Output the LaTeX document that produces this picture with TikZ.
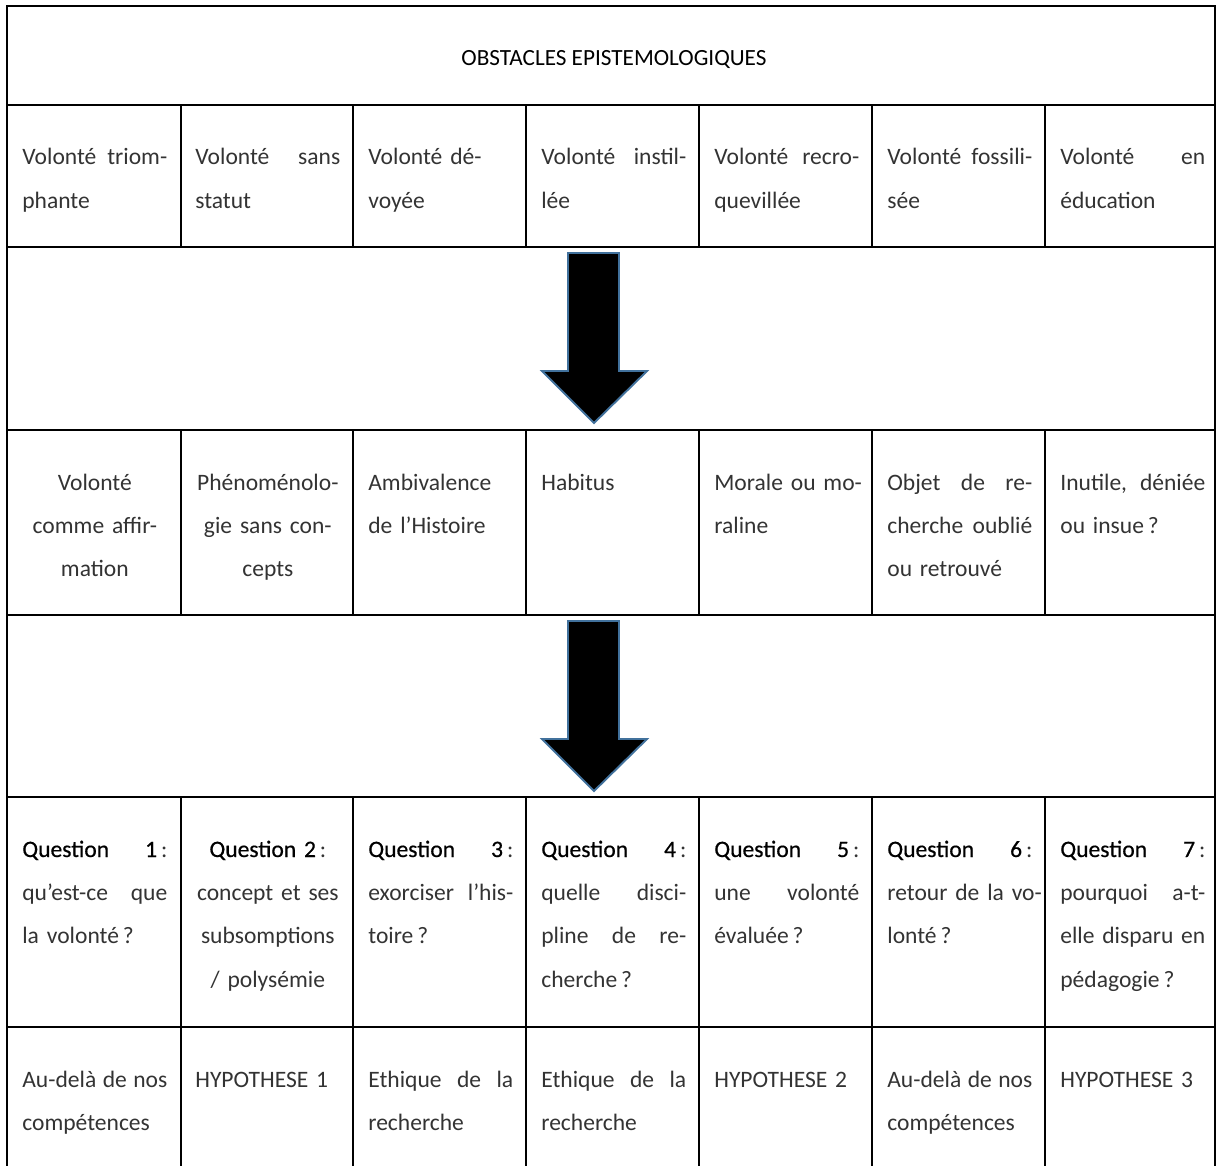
\documentclass[tikz,border=0pt]{standalone}
\usepackage{fontspec}
\setmainfont{Carlito}
\newfontfamily\qfont{Carlito}[FakeBold=0.6]
\usepackage{tikz}
\definecolor{arrowblue}{HTML}{41719C}
\definecolor{bodytext}{HTML}{333333}
\newcommand\bodyfont{\fontsize{13.4}{24.75}\selectfont}
\newcommand\qword[1]{{\qfont\color{black}#1}}
\hyphenpenalty=10000
\exhyphenpenalty=10000
\tikzset{
  rule/.style={line width=0.75pt,draw=black},
  cell/.style={anchor=base west,inner sep=0pt,text width=2.9cm,align=left,font=\bodyfont,text=bodytext},
  ccell/.style={cell,align=center},
  titletext/.style={anchor=base,inner sep=0pt,font=\fontsize{13.2}{15}\selectfont,text=black},
  bigarrow/.style={fill=black,draw=arrowblue,line width=1.1pt,line join=miter},
}

\begin{document}
\begin{tikzpicture}[x=0.02cm,y=-0.02cm]
  \useasboundingbox (0,0) rectangle (1218,1166);
  % grid
  \draw[rule] (7,1166) -- (7,6) -- (1215,6) -- (1215,1166);
  \foreach \y in {105,247,430,615,797,1027}
    \draw[rule] (7,\y) -- (1215,\y);
  \foreach \x in {181,353,526,699,872,1045}
    \foreach \a/\b in {105/247,430/615,797/1166}
      \draw[rule] (\x,\a) -- (\x,\b);
  % block arrows
  \foreach \t in {247,615}
    \draw[bigarrow] (568,\t+6) -- (619,\t+6) -- (619,\t+124) -- (647,\t+124)
      -- (594,\t+176) -- (542,\t+124) -- (568,\t+124) -- cycle;

  \node[titletext] (title) at (614,66) {OBSTACLES EPISTEMOLOGIQUES};

  \foreach \i/\t in {1/{Volonté\hfill triom-\\phante},
                     2/{Volonté\hfill sans\\statut},
                     3/{Volonté dé-\\voyée},
                     4/{Volonté\hfill instil-\\lée},
                     5/{Volonté\hfill recro-\\quevillée},
                     6/{Volonté\hfill fossili-\\sée},
                     7/{Volonté\hfill en\\éducation}}
    \node[cell] (o\i) at ({22+173*(\i-1)},165) {\t};

  \foreach \i/\s/\t in {1/ccell/{Volonté\\comme affir-\\mation},
                        2/ccell/{Phénoménolo-\\gie sans con-\\cepts},
                        3/cell/{Ambivalence\\de l’Histoire},
                        4/cell/{Habitus},
                        5/cell/{Morale~ou~mo-\\raline},
                        6/cell/{Objet\hfill de\hfill re-\\cherche\hfill oublié\\ou retrouvé},
                        7/cell/{Inutile,\hfill déniée\\ou insue\,?}}
    \node[\s] (p\i) at ({22+173*(\i-1)},490) {\t};

  \foreach \i/\s/\t in {1/cell/{\qword{Question\hfill 1}\,:\\qu’est-ce\hfill que\\la volonté\,?},
                        2/ccell/{\qword{Question 2}\,:\\concept et ses\\subsomptions\\/ polysémie},
                        3/cell/{\qword{Question\hfill 3}\,:\\exorciser\hfill l’his-\\toire\,?},
                        4/cell/{\qword{Question\hfill 4}\,:\\quelle\hfill disci-\\pline\hfill de\hfill re-\\cherche\,?},
                        5/cell/{\qword{Question\hfill 5}\,:\\une\hfill volonté\\évaluée\,?},
                        6/cell/{\qword{Question\hfill 6}\,:\\retour~de~la~vo-\\lonté\,?},
                        7/cell/{\qword{Question\hfill 7}\,:\\pourquoi\hfill a-t-\\elle\hfill disparu\hfill en\\pédagogie\,?}}
    \node[\s] (q\i) at ({22+173*(\i-1)},857) {\t};

  \foreach \i/\t in {1/{Au-delà\hfill de\hfill nos\\compétences},
                     2/{HYPOTHESE 1},
                     3/{Ethique\hfill de\hfill la\\recherche},
                     4/{Ethique\hfill de\hfill la\\recherche},
                     5/{HYPOTHESE 2},
                     6/{Au-delà\hfill de\hfill nos\\compétences},
                     7/{HYPOTHESE 3}}
    \node[cell] (h\i) at ({22+173*(\i-1)},1087) {\t};
\end{tikzpicture}
\end{document}
